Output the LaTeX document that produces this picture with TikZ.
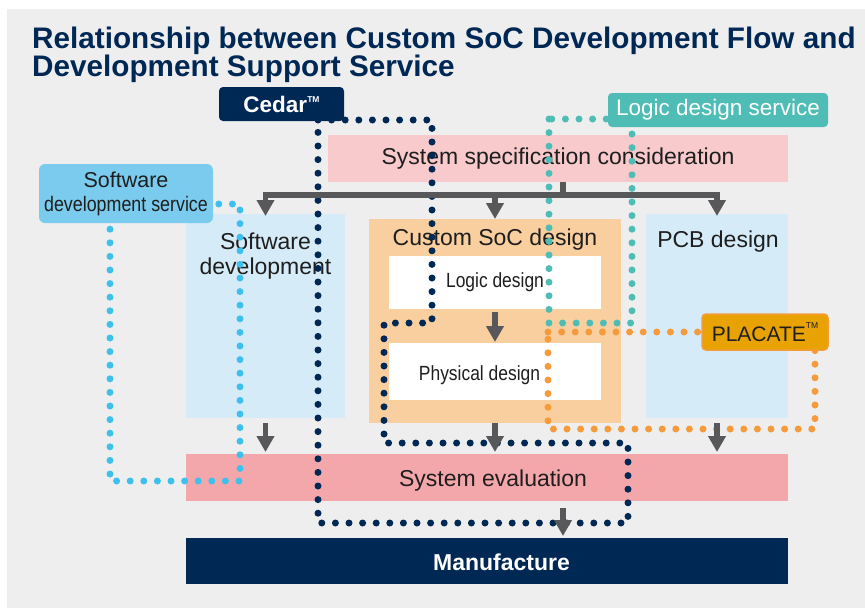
\documentclass[tikz,border=0pt]{standalone}
\usepackage{fontspec}
\setmainfont{Liberation Sans}
\newfontfamily\narrowfont[FakeStretch=0.85]{Liberation Sans}
\usetikzlibrary{arrows.meta}

\definecolor{panelgray}{HTML}{EEEEEE}
\definecolor{navy}{HTML}{002855}
\definecolor{specpink}{HTML}{F8CACC}
\definecolor{evalpink}{HTML}{F4A7AB}
\definecolor{paleblue}{HTML}{D6EBF8}
\definecolor{socorange}{HTML}{FACF9F}
\definecolor{teal}{HTML}{4FBDB5}
\definecolor{swservice}{HTML}{7ACBEE}
\definecolor{swdots}{HTML}{3DC1EC}
\definecolor{placatefill}{HTML}{E8A201}
\definecolor{placateline}{HTML}{F39C3A}
\definecolor{orangedots}{HTML}{F59B3B}
\definecolor{arrowgray}{HTML}{58585A}
\definecolor{inkblack}{HTML}{1E1E1E}

\newcommand{\tmark}[1]{\raisebox{#1}{\fontsize{8.5}{9}\selectfont TM}}

\begin{document}
\begin{tikzpicture}[x=1pt,y=-1pt,
    box/.style={anchor=north west,inner sep=0pt,outer sep=0pt,text=inkblack,
      font=\fontsize{23}{25}\selectfont},
    tag/.style={box,rounded corners=4pt},
    lbl/.style={inner sep=0pt,text=inkblack,align=center,font=\fontsize{23}{25}\selectfont},
    flow/.style={draw=arrowgray,line width=5.5pt},
    flowarrow/.style={flow,-{Triangle[width=17pt,length=16pt]}},
    dots/.style={line width=7pt,line cap=round,dash pattern=on 0pt off 13.6pt}]
		\useasboundingbox (0,0) rectangle (865,608);
		\fill[white] (0,0) rectangle (865,608);
		\fill[panelgray] (7,9) rectangle (865,608);

		% title
		\node[anchor=north west,inner sep=0pt,align=left,text=navy,
		  font=\bfseries\fontsize{29.7}{28.7}\selectfont] (title) at (32,26.5)
		  {Relationship between Custom SoC Development Flow and\\Development Support Service};

		% flow boxes
		\node[box,fill=specpink,minimum width=460pt,minimum height=47pt] (spec) at (328,135) {System specification consideration};
		\node[box,fill=paleblue,minimum width=159pt,minimum height=204pt] (sw) at (186,214) {};
		\node[box,fill=socorange,minimum width=252pt,minimum height=204pt] (soc) at (369,219) {};
		\node[box,fill=paleblue,minimum width=142pt,minimum height=204pt] (pcb) at (646,214) {};
		\node[box,fill=white,minimum width=212pt,minimum height=53pt,
		  font=\narrowfont\fontsize{20.5}{23}\selectfont] (logic) at (389,256) {Logic design};
		\node[box,fill=white,minimum width=212pt,minimum height=57pt] (phys) at (389,343) {};
		\node[box,fill=evalpink,minimum width=602pt,minimum height=47pt] (sysev) at (186,454) {};
		\node[box,fill=navy,minimum width=602pt,minimum height=46pt] (manuf) at (186,538) {};

		\node[lbl,anchor=north] (swtext) at (265.5,233) {Software\\development};
		\node[lbl,anchor=base] (soctext) at (495,245) {Custom SoC design};
		\node[lbl,anchor=base] (pcbtext) at (718,247) {PCB design};
		\node[lbl,anchor=base,font=\narrowfont\fontsize{20.5}{23}\selectfont] (phystext) at (479.5,380) {Physical design};
		\node[lbl,anchor=base] (sysevtext) at (493,486) {System evaluation};
		\node[lbl,anchor=base,text=white,font=\bfseries\fontsize{23}{25}\selectfont] (manuftext) at (501.5,570.5) {Manufacture};

		% support service loops
		\draw[dots,navy] (318,120) -- (432,120) -- (432,323) -- (384,323) -- (384,443) -- (628,443) -- (628,523) -- (318,523) -- cycle;
		\draw[dots,teal] (549,119) -- (549,323) -- (632,323) -- (632,119) -- cycle;
		\draw[dots,swdots] (110,204) -- (240,204) -- (240,481) -- (110,481) -- cycle;
		\draw[dots,orangedots] (548,332) -- (815,332) -- (815,429) -- (548,429) -- cycle;

		% flow arrows
		\coordinate (stem) at (563,195);
		\draw[flow] (spec.south -| stem) -- (stem);
		\draw[flowarrow,{Triangle[width=17pt,length=16pt]}-{Triangle[width=17pt,length=16pt]},shorten <=-2pt,shorten >=-2pt]
		  (sw.north) |- (stem) -| (pcb.north);
		\draw[flowarrow] (stem -| soc.north) -- (soc.north);
		\draw[flowarrow,shorten <=3pt,shorten >=1pt] (logic.south) -- (phys.north);
		\draw[flowarrow,shorten >=2pt] (sw.south |- soc.south) -- (sw.south |- sysev.north);
		\draw[flowarrow,shorten >=2pt] (soc.south) -- (soc.south |- sysev.north);
		\draw[flowarrow,shorten >=2pt] (pcb.south |- soc.south) -- (pcb.south |- sysev.north);
		\draw[flowarrow,shorten <=7pt,shorten >=2pt] (sysev.south -| stem) -- (manuf.north -| stem);

		% service tags
		\node[tag,fill=navy,text=white,minimum width=125pt,minimum height=34pt,
		  font=\bfseries\fontsize{22.5}{25}\selectfont] (cedar) at (219,87) {Cedar\tmark{10pt}};
		\node[tag,fill=teal,text=white,minimum width=220pt,minimum height=34pt,
		  font=\fontsize{22.5}{25}\selectfont] (logicsvc) at (608,93) {Logic design service};
		\node[tag,fill=swservice,rounded corners=6pt,minimum width=174pt,minimum height=59pt,
		  align=center,font=\fontsize{21.5}{24}\selectfont] (swsvc) at (39,164)
		  {Software\\{\narrowfont\fontsize{21}{24}\selectfont development service}};
		\node[tag,fill=placatefill,draw=placateline,line width=1.5pt,minimum width=126pt,minimum height=36pt,
		  font=\fontsize{21}{24}\selectfont] (placate) at (702,314) {PLACATE\tmark{13pt}};
	\end{tikzpicture}
\end{document}
